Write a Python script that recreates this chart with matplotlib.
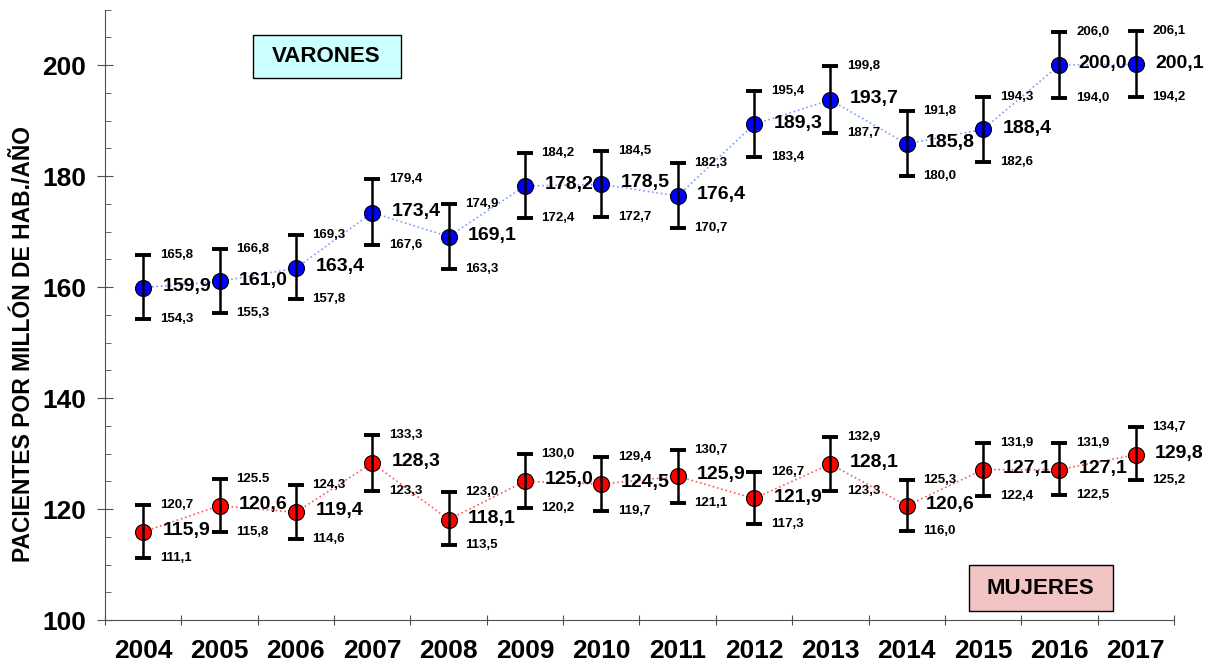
import numpy as np
import matplotlib
matplotlib.use("Agg")
import matplotlib.pyplot as plt
from matplotlib.patches import Rectangle
from matplotlib.ticker import MultipleLocator, FixedLocator

plt.rcParams["font.family"] = ["Liberation Sans", "DejaVu Sans"]
plt.rcParams["font.weight"] = "bold"

anios = ["2004", "2005", "2006", "2007", "2008", "2009", "2010",
         "2011", "2012", "2013", "2014", "2015", "2016", "2017"]

varones = [159.9, 161.0, 163.4, 173.4, 169.1, 178.2, 178.5,
           176.4, 189.3, 193.7, 185.8, 188.4, 200.0, 200.1]
varones_sup = [165.8, 166.8, 169.3, 179.4, 174.9, 184.2, 184.5,
               182.3, 195.4, 199.8, 191.8, 194.3, 206.0, 206.1]
varones_inf = [154.3, 155.3, 157.8, 167.6, 163.3, 172.4, 172.7,
               170.7, 183.4, 187.7, 180.0, 182.6, 194.0, 194.2]

mujeres = [115.9, 120.6, 119.4, 128.3, 118.1, 125.0, 124.5,
           125.9, 121.9, 128.1, 120.6, 127.1, 127.1, 129.8]
mujeres_sup = [120.7, 125.5, 124.3, 133.3, 123.0, 130.0, 129.4,
               130.7, 126.7, 132.9, 125.3, 131.9, 131.9, 134.7]
mujeres_inf = [111.1, 115.8, 114.6, 123.3, 113.5, 120.2, 119.7,
               121.1, 117.3, 123.3, 116.0, 122.4, 122.5, 125.2]


def fmt(v):
    return f"{v:.1f}".replace(".", ",")


def dibuja_serie(ax, x, media, sup, inf, color, color_linea, txt_sup=None):

    ax.plot(x, media, linestyle=":", color=color_linea, linewidth=1.2, zorder=2)
    ax.plot(x, media, linestyle="none", marker="o", markersize=11.5,
            markerfacecolor=color, markeredgecolor="black", markeredgewidth=0.8, zorder=3)

    media = np.array(media)
    err = [media - np.array(inf), np.array(sup) - media]
    ax.errorbar(x, media, yerr=err, fmt="none", ecolor="black", elinewidth=1.8,
                capsize=5.5, capthick=2.8, zorder=4)

    if txt_sup is None:
        txt_sup = [fmt(v) for v in sup]

    for i in range(len(x)):
        ax.annotate(fmt(media[i]), (x[i], media[i]), xytext=(14, 1),
                    textcoords="offset points", fontsize=14, fontweight="bold",
                    va="center", ha="left", zorder=5)
        ax.annotate(txt_sup[i], (x[i], sup[i]), xytext=(12, 0),
                    textcoords="offset points", fontsize=9.5, fontweight="bold",
                    va="center", ha="left", zorder=5)
        ax.annotate(fmt(inf[i]), (x[i], inf[i]), xytext=(12, 0),
                    textcoords="offset points", fontsize=9.5, fontweight="bold",
                    va="center", ha="left", zorder=5)


fig = plt.figure(figsize=(12.14, 6.66), dpi=100)
ax = fig.add_axes([0.0865, 0.069, 0.8805, 0.9167])

x = np.arange(len(anios))

dibuja_serie(ax, x, varones, varones_sup, varones_inf, "#0000ff", "#7f9cff")

# en el original el 125.5 va con punto
txt_muj = [fmt(v) for v in mujeres_sup]
txt_muj[1] = "125.5"
dibuja_serie(ax, x, mujeres, mujeres_sup, mujeres_inf, "#ff0000", "#ff5a5a", txt_muj)

ax.set_xlim(-0.5, len(anios) - 0.5)
ax.set_ylim(100, 210)

ax.spines["top"].set_visible(False)
ax.spines["right"].set_visible(False)
ax.spines["left"].set_color("#505050")
ax.spines["bottom"].set_color("#505050")

ax.yaxis.set_major_locator(FixedLocator([100, 120, 140, 160, 180, 200]))
ax.yaxis.set_minor_locator(MultipleLocator(5))
ax.tick_params(axis="y", which="major", direction="inout", length=11.5,
               color="#505050", labelsize=19, pad=8)
ax.tick_params(axis="y", which="minor", direction="in", length=4.3, color="#505050")
for t in ax.get_yticklabels():
    t.set_fontweight("bold")

ax.xaxis.set_major_locator(FixedLocator(np.arange(-0.5, len(anios), 1.0)))
ax.xaxis.set_minor_locator(FixedLocator(x))
ax.xaxis.set_major_formatter(plt.NullFormatter())
ax.set_xticks(x, anios, minor=True)
ax.tick_params(axis="x", which="major", direction="inout", length=7, color="#505050")
ax.tick_params(axis="x", which="minor", length=0, labelsize=19, pad=14)
for t in ax.get_xticklabels(minor=True):
    t.set_fontweight("bold")

ax.set_ylabel("PACIENTES POR MILLÓN DE HAB./AÑO", fontsize=16.5, fontweight="bold")
ax.yaxis.set_label_coords(-0.0655, 0.452)

# cajas de texto
ax.add_patch(Rectangle((0.138, 0.888), 0.1385, 0.0704, transform=ax.transAxes,
                       facecolor="#ccffff", edgecolor="black", linewidth=1, zorder=6))
ax.text(0.138 + 0.1385 / 2, 0.888 + 0.0704 / 2, "VARONES", transform=ax.transAxes,
        fontsize=16, fontweight="bold", ha="center", va="center", zorder=7)

ax.add_patch(Rectangle((0.808, 0.0147), 0.1347, 0.075, transform=ax.transAxes,
                       facecolor="#f2c4c4", edgecolor="black", linewidth=1, zorder=6))
ax.text(0.808 + 0.1347 / 2, 0.0147 + 0.075 / 2, "MUJERES", transform=ax.transAxes,
        fontsize=16, fontweight="bold", ha="center", va="center", zorder=7)

fig.savefig("out.png", dpi=100)
plt.close(fig)
